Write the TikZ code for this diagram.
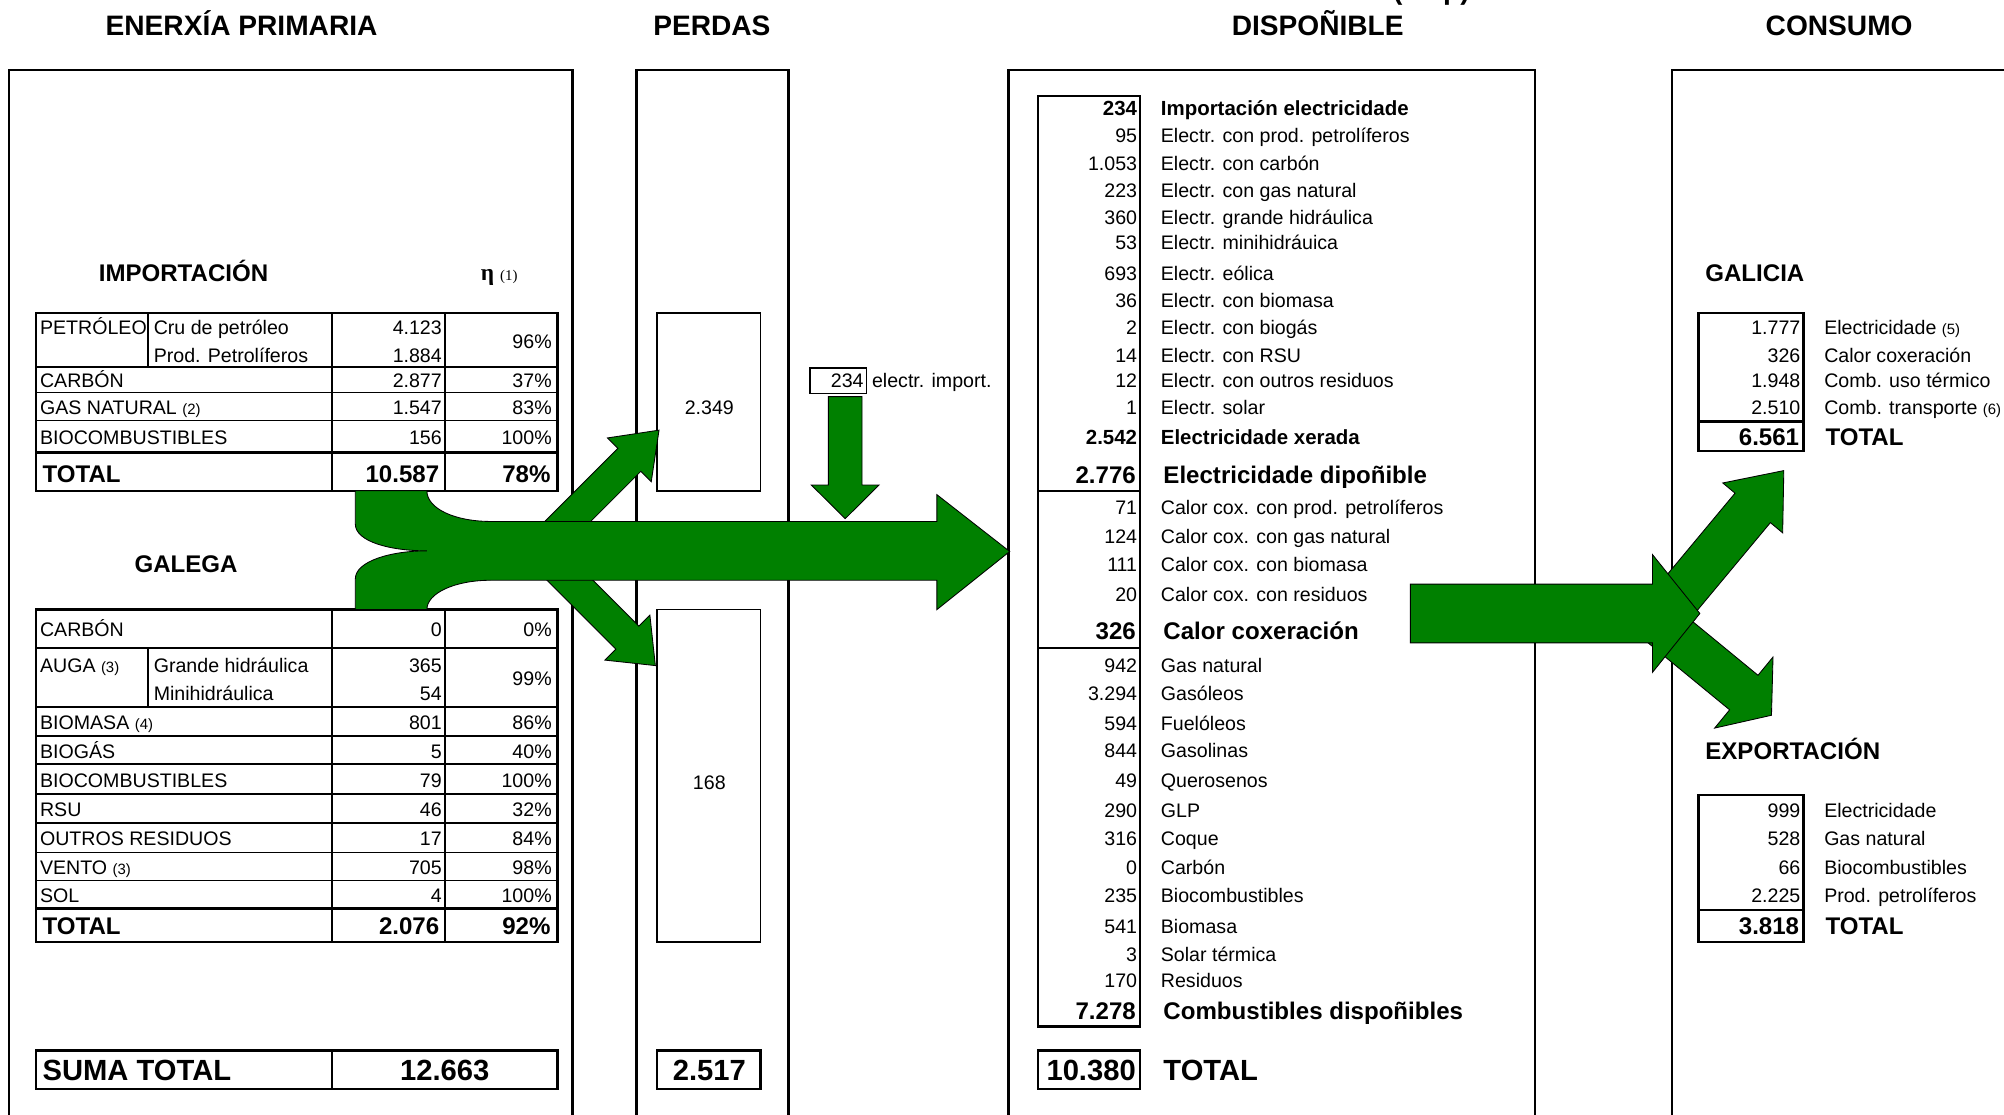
\documentclass[tikz,border=0pt]{standalone}
\usepackage{fontspec}
\setmainfont{Liberation Sans}
\newfontfamily\etafont{Liberation Serif}
\definecolor{flowgreen}{RGB}{0,128,0}
\newcommand\ftn[1]{{\fontsize{7}{8}\selectfont #1}}
% base x, base y, angle, length, shaft, head width, head length
\newcommand\blockarrow[7]{%
  \begin{scope}[shift={(#1,#2)},rotate=#3]
    \filldraw[greenflow] (0,{-#5/2}) -- ({#4-#7},{-#5/2}) -- ({#4-#7},{-#6/2}) -- (#4,0)
      -- ({#4-#7},{#6/2}) -- ({#4-#7},{#5/2}) -- (0,{#5/2}) -- cycle;
  \end{scope}}
\tikzset{
  colframe/.style={line width=1.1pt},
  cellline/.style={line width=0.8pt},
  cellthick/.style={line width=1.2pt},
  greenflow/.style={fill=flowgreen,draw=black,line width=0.4pt},
  coltitle/.style={font=\bfseries\fontsize{13.2}{15}\selectfont,inner sep=0pt,anchor=base},
  part/.style={font=\bfseries\fontsize{11.3}{13}\selectfont,anchor=mid west,inner sep=0pt,yshift=-1.6pt},
  lbl/.style={font=\fontsize{9.2}{11}\selectfont,anchor=mid west,inner sep=0pt,yshift=-1.2pt},
  val/.style={font=\fontsize{9.2}{11}\selectfont,anchor=mid east,inner sep=0pt,yshift=-1.2pt},
  blbl/.style={font=\bfseries\fontsize{9.6}{11}\selectfont,anchor=mid west,inner sep=0pt,yshift=-1.2pt},
  bval/.style={font=\bfseries\fontsize{9.6}{11}\selectfont,anchor=mid east,inner sep=0pt,yshift=-1.2pt},
  totlbl/.style={font=\bfseries\fontsize{11.3}{13}\selectfont,anchor=mid west,inner sep=0pt,yshift=-1.8pt},
  totval/.style={font=\bfseries\fontsize{11.3}{13}\selectfont,anchor=mid east,inner sep=0pt,yshift=-1.8pt},
  sumtext/.style={font=\bfseries\fontsize{13.7}{16}\selectfont,inner sep=0pt,anchor=mid,yshift=-2.2pt},
}
\begin{document}
\begin{tikzpicture}[x=0.6pt,y=-0.6pt]
  \useasboundingbox (0,0) rectangle (1568,872);
  \clip (0,0) rectangle (1568,872);
  % column titles
  \node[coltitle] (unit) at (1120,0) {(ktep)};
  \node[coltitle] (tprim) at (189,28) {ENERXÍA PRIMARIA};
  \node[coltitle] (tperd) at (557,28) {PERDAS};
  \node[coltitle] (tdisp) at (1031,28) {DISPOÑIBLE};
  \node[coltitle] (tcons) at (1439,28) {CONSUMO};
  % column frames
  \draw[colframe] (7,890) -- (7,55) -- (448,55) -- (448,890);
  \draw[colframe] (498,890) -- (498,55) -- (617,55) -- (617,890);
  \draw[colframe] (789,890) -- (789,55) -- (1201,55) -- (1201,890);
  \draw[colframe] (1308,890) -- (1308,55) -- (1590,55);

  % importacion
  \node[part] (imp) at (77,213) {IMPORTACIÓN};
  \node[anchor=mid west,inner sep=0pt,yshift=-1.2pt] (eta) at (376,213)
    {\etafont\bfseries\fontsize{11}{13}\selectfont η \mdseries\fontsize{7}{8}\selectfont(1)};
  \draw[cellthick] (28,245) rectangle (436,384);
  \draw[cellline] (116,245) -- (116,287);
  \foreach \x in {260,348}
    \draw[cellline] (\x,245) -- (\x,384);
  \foreach \y in {287,307,329}
    \draw[cellline] (28,\y) -- (436,\y);
  \draw[cellthick] (28,354) -- (436,354);
  \node[lbl] (petr) at (31,255) {PETRÓLEO};
  \node[lbl] (cru) at (120,255) {Cru de petróleo};
  \node[lbl] (prod) at (120,277) {Prod. Petrolíferos};
  \node[val] (crv) at (346,255) {4.123};
  \node[val] (prv) at (346,277) {1.884};
  \node[val] (pef) at (432,266) {96\%};
  \foreach \desc/\amt/\eff/\yy [count=\i] in
    {CARBÓN/2.877/37\%/297, GAS NATURAL \ftn{(2)}/1.547/83\%/318,
     BIOCOMBUSTIBLES/156/100\%/341.5}
  {
    \node[lbl] (il\i) at (31,\yy) {\desc};
    \node[val] (iv\i) at (346,\yy) {\amt};
    \node[val] (ie\i) at (432,\yy) {\eff};
  }
  \node[totlbl] (itot) at (33,370) {TOTAL};
  \node[totval] (itotv) at (344,370) {10.587};
  \node[totval] (itote) at (431,370) {78\%};

  % galega
  \node[part] (gal) at (105,441) {GALEGA};
  \draw[cellthick] (28,477) rectangle (436,737);
  \draw[cellline] (116,507) -- (116,553);
  \foreach \x in {260,348}
    \draw[cellline] (\x,477) -- (\x,737);
  \foreach \y in {507,553,576,598,621,644,667,689}
    \draw[cellline] (28,\y) -- (436,\y);
  \draw[cellthick] (28,711) -- (436,711);
  \node[lbl] (auga) at (31,520) {AUGA \ftn{(3)}};
  \node[lbl] (gran) at (120,520) {Grande hidráulica};
  \node[lbl] (mini) at (120,542) {Minihidráulica};
  \node[val] (granv) at (346,520) {365};
  \node[val] (miniv) at (346,542) {54};
  \node[val] (augae) at (432,530) {99\%};
  \foreach \desc/\amt/\eff/\yy [count=\i] in
    {CARBÓN/0/0\%/492, BIOMASA \ftn{(4)}/801/86\%/564.5, BIOGÁS/5/40\%/587,
     BIOCOMBUSTIBLES/79/100\%/609.5, RSU/46/32\%/632.5,
     OUTROS RESIDUOS/17/84\%/655.5, VENTO \ftn{(3)}/705/98\%/678, SOL/4/100\%/700}
  {
    \node[lbl] (gl\i) at (31,\yy) {\desc};
    \node[val] (gv\i) at (346,\yy) {\amt};
    \node[val] (ge\i) at (432,\yy) {\eff};
  }
  \node[totlbl] (gtot) at (33,724) {TOTAL};
  \node[totval] (gtotv) at (344,724) {2.076};
  \node[totval] (gtote) at (431,724) {92\%};

  % suma total
  \draw[cellthick] (28,822) rectangle (436,852);
  \draw[cellline] (260,822) -- (260,852);
  \node[sumtext,anchor=mid west] (suma) at (33,837) {SUMA TOTAL};
  \node[sumtext] (sumav) at (348,837) {12.663};

  % perdas
  \draw[cellline] (514,245) rectangle (595,384);
  \draw[cellline] (514,477) rectangle (595,737);
  \draw[cellthick] (514,822) rectangle (595,852);
  \node[lbl,anchor=mid] (pimp) at (555,318) {2.349};
  \node[lbl,anchor=mid] (pgal) at (555,611) {168};
  \node[sumtext] (ptot) at (555,837) {2.517};

  % electricidade importada
  \draw[cellline] (634,288) rectangle (678,308);
  \node[val] (eimp) at (676,297) {234};
  \node[lbl] (eimpl) at (682,297) {electr. import.};

  % dispoñible
  \draw[cellthick] (812,75) rectangle (892,803);
  \draw[cellthick] (812,384) -- (892,384);
  \draw[cellthick] (812,507) -- (892,507);
  \draw[cellthick] (812,822) rectangle (892,852);
  \foreach \amt/\desc/\yy [count=\i] in
    {95/Electr. con prod. petrolíferos/105, 1.053/Electr. con carbón/127,
     223/Electr. con gas natural/148, 360/Electr. grande hidráulica/169,
     53/Electr. minihidráuica/189, 693/Electr. eólica/213,
     36/Electr. con biomasa/234, 2/Electr. con biogás/255,
     14/Electr. con RSU/277, 12/Electr. con outros residuos/297,
     1/Electr. solar/318, 71/Calor cox. con prod. petrolíferos/396,
     124/Calor cox. con gas natural/419, 111/Calor cox. con biomasa/441,
     20/Calor cox. con residuos/464, 942/Gas natural/520,
     3.294/Gasóleos/542, 594/Fuelóleos/565, 844/Gasolinas/586,
     49/Querosenos/610, 290/GLP/633, 316/Coque/655, 0/Carbón/678,
     235/Biocombustibles/700, 541/Biomasa/724, 3/Solar térmica/746,
     170/Residuos/766}
  {
    \node[val] (dv\i) at (890,\yy) {\amt};
    \node[lbl] (dl\i) at (908,\yy) {\desc};
  }
  \foreach \amt/\desc/\yy [count=\i] in
    {234/Importación electricidade/84, 2.542/Electricidade xerada/341}
  {
    \node[bval] (db\i) at (890,\yy) {\amt};
    \node[blbl] (dbl\i) at (908,\yy) {\desc};
  }
  \foreach \amt/\desc/\yy [count=\i] in
    {2.776/Electricidade dipoñible/371, 326/Calor coxeración/493,
     7.278/Combustibles dispoñibles/790}
  {
    \node[totval] (ds\i) at (889,\yy) {\amt};
    \node[totlbl] (dsl\i) at (910,\yy) {\desc};
  }
  \node[sumtext,anchor=mid east] (dtot) at (889,837) {10.380};
  \node[sumtext,anchor=mid west] (dtotl) at (910,837) {TOTAL};

  % consumo
  \node[part] (galicia) at (1334,213) {GALICIA};
  \draw[cellthick] (1329,245) rectangle (1411,353);
  \draw[cellthick] (1329,330) -- (1411,330);
  \foreach \amt/\desc/\yy [count=\i] in
    {1.777/Electricidade \ftn{(5)}/255, 326/Calor coxeración/277,
     1.948/Comb. uso térmico/297, 2.510/Comb. transporte \ftn{(6)}/318}
  {
    \node[val] (cv\i) at (1409,\yy) {\amt};
    \node[lbl] (cl\i) at (1427,\yy) {\desc};
  }
  \node[totval] (ctot) at (1408,341) {6.561};
  \node[totlbl] (ctotl) at (1428,341) {TOTAL};
  \node[part] (expo) at (1334,587) {EXPORTACIÓN};
  \draw[cellthick] (1329,622) rectangle (1411,737);
  \draw[cellthick] (1329,712) -- (1411,712);
  \foreach \amt/\desc/\yy [count=\i] in
    {999/Electricidade/633, 528/Gas natural/655,
     66/Biocombustibles/678, 2.225/Prod. petrolíferos/700}
  {
    \node[val] (xv\i) at (1409,\yy) {\amt};
    \node[lbl] (xl\i) at (1427,\yy) {\desc};
  }
  \node[totval] (xtot) at (1408,724) {3.818};
  \node[totlbl] (xtotl) at (1428,724) {TOTAL};

  % flows
  \blockarrow{432.2}{420}{45}{118}{25.4}{48.4}{32.8}
  \blockarrow{434}{442}{-45}{111.4}{25.4}{49.7}{30.9}
  \filldraw[greenflow] (278,384) -- (278,410) .. controls (278,424) and (306,431) .. (334,431)
    .. controls (306,431) and (278,439) .. (278,453) -- (278,477) -- (334,477)
    .. controls (334,464) and (356,454) .. (384,454) -- (733,454) -- (733,477)
    -- (790,431.5) -- (733,387) -- (733,408) -- (384,408)
    .. controls (356,408) and (334,398) .. (334,384) -- cycle;
  \blockarrow{661.3}{310.3}{-90}{95.5}{26.3}{53}{26.3}
  \blockarrow{1304.8}{477.3}{50.2}{142}{36}{61}{38}
  \blockarrow{1299.2}{488.3}{-39.4}{112.4}{35}{72}{28}
  \blockarrow{1103.5}{480}{0}{226.5}{46}{92}{37}
\end{tikzpicture}
\end{document}
